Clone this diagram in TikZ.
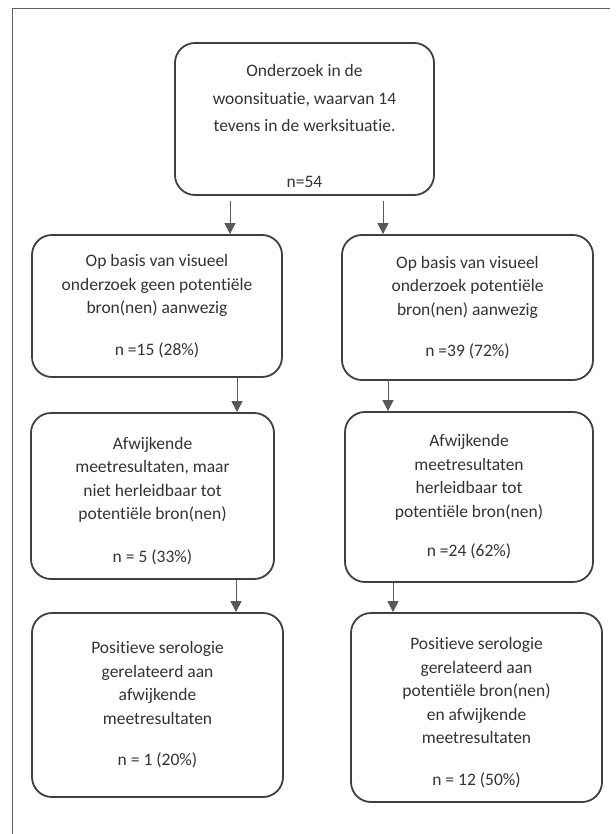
\documentclass[tikz,border=0pt]{standalone}
\usepackage{fontspec}
\setmainfont{Carlito}[Ligatures=NoCommon]
\usetikzlibrary{arrows.meta}
\definecolor{boxline}{HTML}{404040}
\definecolor{arrcol}{HTML}{595959}
\definecolor{txt}{HTML}{333333}
\definecolor{framecol}{HTML}{606060}
\begin{document}
\begin{tikzpicture}[x=1pt,y=-1pt,
 flowbox/.style={draw=boxline, line width=1.8pt, rounded corners=20pt, inner sep=0pt},
 boxtext/.style={align=center, text=txt, inner sep=0pt, font=\fontsize{17.5}{23.5}\selectfont},
 arr/.style={draw=arrcol, line width=1pt, -{Triangle[width=11pt,length=11pt]}},
 framelines/.style={draw=framecol, line width=1pt}]
\useasboundingbox (0,0) rectangle (615,834);
\fill[white] (0,0) rectangle (615,834);
% frame
\coordinate (f0) at (12,834);
\coordinate (f1) at (12,9);
\coordinate (f2) at (610,9);
\draw[framelines] (f0) -- (f1) -- (f2);
% boxes
\node[flowbox, minimum width=259pt, minimum height=152pt] (T) at (304.5,119) {};
\node[flowbox, minimum width=250pt, minimum height=142pt] (L2) at (157,306) {};
\node[flowbox, minimum width=251pt, minimum height=145pt] (R2) at (467.5,307.5) {};
\node[flowbox, minimum width=243pt, minimum height=166pt] (L3) at (152.5,496) {};
\node[flowbox, minimum width=248pt, minimum height=170pt] (R3) at (469,497) {};
\node[flowbox, minimum width=251pt, minimum height=184pt] (L4) at (157.5,705) {};
\node[flowbox, minimum width=251pt, minimum height=189pt] (R4) at (476.5,707.5) {};
% texts
\node[boxtext, font=\fontsize{17.5}{27.5}\selectfont, yshift=-7pt] (Tt) at (T.center)
 {Onderzoek in de\\woonsituatie, waarvan 14\\tevens in de werksituatie.\\[28.5pt]n=54};
\node[boxtext] (L2t) at (L2.center)
 {Op basis van visueel\\onderzoek geen potentiële\\bron(nen) aanwezig\\[18pt]n =15 (28\%)};
\node[boxtext] (R2t) at (R2.center)
 {Op basis van visueel\\onderzoek potentiële\\bron(nen) aanwezig\\[18pt]n =39 (72\%)};
\node[boxtext, yshift=-5pt] (L3t) at (L3.center)
 {Afwijkende\\meetresultaten, maar\\niet herleidbaar tot\\potentiële bron(nen)\\[19pt]n = 5 (33\%)};
\node[boxtext] (R3t) at (R3.center)
 {Afwijkende\\meetresultaten\\herleidbaar tot\\potentiële bron(nen)\\[16pt]n =24 (62\%)};
\node[boxtext] (L4t) at (L4.center)
 {Positieve serologie\\gerelateerd aan\\afwijkende\\meetresultaten\\[18pt]n = 1 (20\%)};
\node[boxtext, yshift=-5pt] (R4t) at (R4.center)
 {Positieve serologie\\gerelateerd aan\\potentiële bron(nen)\\en afwijkende\\meetresultaten\\[18pt]n = 12 (50\%)};
% arrows
\coordinate (x1) at (230,0);
\coordinate (x2) at (383,0);
\coordinate (x3) at (237,0);
\coordinate (x4) at (388,0);
\coordinate (x5) at (236,0);
\coordinate (x6) at (393,0);
\draw[arr] ([yshift=-5pt]T.south -| x1) -- (L2.north -| x1);
\draw[arr] ([yshift=-5pt]T.south -| x2) -- (R2.north -| x2);
\draw[arr] (L2.south -| x3) -- (L3.north -| x3);
\draw[arr] (R2.south -| x4) -- (R3.north -| x4);
\draw[arr] (L3.south -| x5) -- (L4.north -| x5);
\draw[arr] (R3.south -| x6) -- (R4.north -| x6);
\end{tikzpicture}
\end{document}
